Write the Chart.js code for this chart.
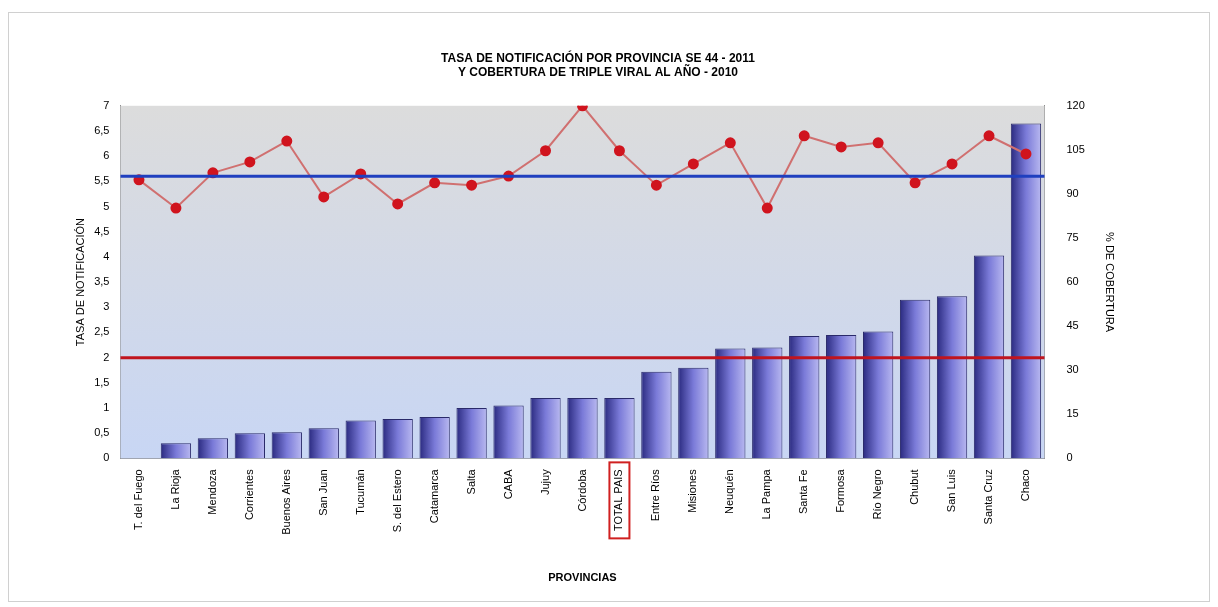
<!DOCTYPE html>
<html><head><meta charset="utf-8">
<script src="https://cdn.jsdelivr.net/npm/chart.js@4.4.0/dist/chart.umd.min.js"></script>
<style>
body{margin:0;background:#fff;}
#wrap{position:absolute;left:8px;top:12px;width:1200px;height:588px;border:1px solid #d0d0d0;}
</style></head>
<body>
<div id="wrap"><canvas id="chart"></canvas></div>
<script>
const provincias = ['T. del Fuego','La Rioja','Mendoza','Corrientes','Buenos Aires','San Juan','Tucumán','S. del Estero','Catamarca','Salta','CABA','Jujuy','Córdoba','TOTAL PAIS','Entre Ríos','Misiones','Neuquén','La Pampa','Santa Fe','Formosa','Río Negro','Chubut','San Luis','Santa Cruz','Chaco'];
const tasa = [0, 0.3, 0.4, 0.5, 0.52, 0.6, 0.75, 0.78, 0.82, 1.0, 1.05, 1.2, 1.2, 1.2, 1.72, 1.8, 2.18, 2.2, 2.43, 2.45, 2.52, 3.15, 3.22, 4.03, 6.65];
const cobertura = [94.8, 85.2, 97.2, 100.9, 108, 89, 96.8, 86.6, 93.8, 93, 96.1, 104.7, 120, 104.7, 93, 100.2, 107.4, 85.2, 109.8, 106, 107.4, 93.8, 100.2, 109.8, 103.6];
const tasaTicks = ['0','0,5','1','1,5','2','2,5','3','3,5','4','4,5','5','5,5','6','6,5','7'];
const lineaAzul = 5.6;   // tasa reference
const lineaRoja = 2;

const font = {family:'Arial, "Liberation Sans"', size:11};
const ctx = document.getElementById('chart').getContext('2d');

const refPlugin = {
  id:'refs',
  beforeDatasetsDraw(chart){
    const {ctx, chartArea:a} = chart;
    const g = ctx.createLinearGradient(0,a.top,0,a.bottom);
    g.addColorStop(0,'#dcdcdc'); g.addColorStop(1,'#c8d6f4');
    ctx.save(); ctx.fillStyle=g; ctx.fillRect(a.left,a.top,a.right-a.left,a.bottom-a.top); ctx.restore();
  },
  afterDatasetsDraw(chart){
    const {ctx, chartArea:a, scales} = chart;
    ctx.save();
    [[lineaAzul,'#1f3fbf'],[lineaRoja,'#c0141e']].forEach(([v,c])=>{
      const y = scales.y.getPixelForValue(v);
      ctx.strokeStyle=c; ctx.lineWidth=3;
      ctx.beginPath(); ctx.moveTo(a.left,y); ctx.lineTo(a.right,y); ctx.stroke();
    });
    const x = scales.x.getPixelForValue(13);
    ctx.strokeStyle='#d02020'; ctx.lineWidth=2;
    ctx.strokeRect(x-10, a.bottom+4, 20, 76);
    ctx.restore();
  }
};

function barFill(c){
  const ch=c.chart, a=ch.chartArea, sx=ch.scales && ch.scales.x;
  if(!a || !sx) return '#6a6ad0';
  const x=sx.getPixelForValue(c.dataIndex);
  if(!isFinite(x)) return '#6a6ad0';
  const w=(a.right-a.left)/25*0.82;
  const g=ch.ctx.createLinearGradient(x-w/2,0,x+w/2,0);
  g.addColorStop(0,'#2a2a80'); g.addColorStop(0.5,'#7a7ad8'); g.addColorStop(1,'#b8b8f0');
  return g;
}

new Chart(ctx, {
  type:'bar',
  data:{
    labels: provincias,
    datasets:[
      {type:'line', label:'Cobertura', data:cobertura, yAxisID:'y2', borderColor:'#d07070', borderWidth:2,
       pointBackgroundColor:'#d0141e', pointBorderColor:'#d0141e', pointRadius:4.5, order:0},
      {label:'Tasa', data:tasa, yAxisID:'y', borderColor:'#2a2a6a', borderWidth:1, categoryPercentage:1, barPercentage:0.82,
       backgroundColor:barFill, order:1}
    ]
  },
  options:{
    responsive:true, maintainAspectRatio:false, animation:false,
    layout:{padding:{top:8,left:61,right:83,bottom:12}},
    plugins:{
      legend:{display:false},
      title:{display:true, text:['TASA DE NOTIFICACIÓN POR PROVINCIA SE 44 - 2011','Y COBERTURA DE TRIPLE VIRAL AL AÑO - 2010'],
        font:{family:'Arial, "Liberation Sans"', size:12, weight:'bold'}, color:'#000', padding:{top:30,bottom:26}, lineHeight:1.1}
    },
    scales:{
      x:{grid:{display:false}, border:{color:'#888'}, ticks:{color:'#000', font, maxRotation:90, minRotation:90, autoSkip:false},
        title:{display:true, text:'PROVINCIAS', font:{...font, weight:'bold'}, color:'#000', padding:{top:34}}},
      y:{min:0, max:7, grid:{display:false}, border:{color:'#888'},
        ticks:{stepSize:0.5, color:'#000', font, callback:(v,i)=>tasaTicks[i]},
        title:{display:true, text:'TASA DE NOTIFICACIÓN', font, color:'#000'}},
      y2:{position:'right', min:0, max:120, grid:{display:false}, border:{color:'#888'},
        ticks:{stepSize:15, color:'#000', font, padding:14},
        title:{display:true, text:'% DE COBERTURA', font, color:'#000', padding:{top:10}}}
    }
  },
  plugins:[refPlugin]
});
</script>
</body></html>
